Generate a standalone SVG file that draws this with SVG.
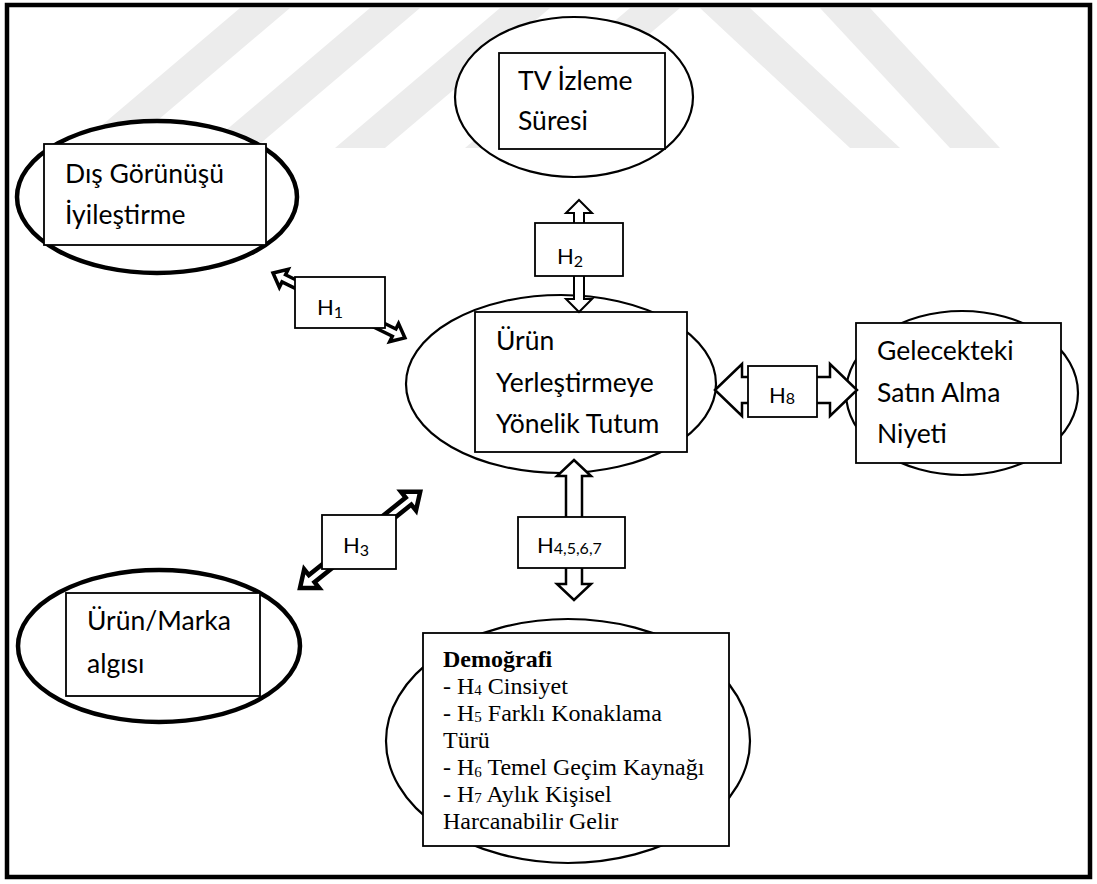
<svg xmlns="http://www.w3.org/2000/svg" width="1097" height="884" viewBox="0 0 1097 884">
<style>
.bg{fill:#ffffff}
.wm{fill:#ececec}
.ell{fill:#ffffff;stroke:#000;stroke-width:2.2}
.ellb{fill:#ffffff;stroke:#000;stroke-width:4.5}
.box{fill:#ffffff;stroke:#000;stroke-width:1.8}
.lab{fill:#ffffff;stroke:#000;stroke-width:1.8}
.t{font-family:Lato,"Open Sans",sans-serif;font-size:26.5px;fill:#000}
.h{font-family:Lato,"Open Sans",sans-serif;font-size:22px;fill:#000}
.sub{font-size:16px}
.d{font-family:"Liberation Serif","DejaVu Serif",serif;font-size:24px;fill:#000}
.ds{font-size:15px}
.arr{fill:#ffffff;stroke:#000;stroke-linejoin:miter}
</style>
<rect class="bg" x="0" y="0" width="1097" height="884"/>
<g id="watermark">
<polygon class="wm" points="240,8 290,8 125,148 75,148"/>
<polygon class="wm" points="370,8 420,8 255,148 205,148"/>
<polygon class="wm" points="500,8 550,8 385,148 335,148"/>
<polygon class="wm" points="630,8 680,8 515,148 465,148"/>
<polygon class="wm" points="700,8 750,8 900,148 850,148"/>
<polygon class="wm" points="820,8 870,8 1000,148 950,148"/>
</g>
<rect x="7" y="5" width="1083" height="872" fill="none" stroke="#000" stroke-width="4.5"/>
<g id="node-tv">
<ellipse class="ell" cx="574" cy="97" rx="119" ry="80"/>
<rect class="box" x="499" y="53" width="166" height="96"/>
<text class="t" x="518" y="90">TV İzleme</text>
<text class="t" x="518" y="130">Süresi</text>
</g>
<g id="node-dis">
<ellipse class="ellb" cx="157" cy="197" rx="140" ry="76"/>
<rect class="box" x="44" y="144" width="222" height="101"/>
<text class="t" x="65" y="183">Dış Görünüşü</text>
<text class="t" x="65" y="224">İyileştirme</text>
</g>
<g id="node-center">
<ellipse class="ell" cx="561" cy="384" rx="155" ry="89"/>
<rect class="box" x="475" y="312" width="212" height="140"/>
<text class="t" x="496" y="350">Ürün</text>
<text class="t" x="496" y="392">Yerleştirmeye</text>
<text class="t" x="496" y="433">Yönelik Tutum</text>
</g>
<g id="node-gelecek">
<ellipse class="ell" cx="962" cy="393" rx="116" ry="82"/>
<rect class="box" x="856" y="323" width="205" height="140"/>
<text class="t" x="877" y="360">Gelecekteki</text>
<text class="t" x="877" y="402">Satın Alma</text>
<text class="t" x="877" y="443">Niyeti</text>
</g>
<g id="node-urun">
<ellipse class="ellb" cx="159" cy="646" rx="141" ry="76"/>
<rect class="box" x="66" y="593" width="194" height="103"/>
<text class="t" x="87" y="630">Ürün/Marka</text>
<text class="t" x="87" y="673">algısı</text>
</g>
<g id="node-demografi" font-family="'Liberation Serif', 'DejaVu Serif', serif">
<ellipse class="ell" cx="568" cy="741" rx="182" ry="122"/>
<rect class="box" x="423" y="633" width="306" height="213"/>
<text class="d" x="443" y="667" font-weight="bold">Demoğrafi</text>
<text class="d" x="443" y="694">- H<tspan class="ds" dy="1">4</tspan><tspan dy="-1"> Cinsiyet</tspan></text>
<text class="d" x="443" y="721">- H<tspan class="ds" dy="1">5</tspan><tspan dy="-1"> Farklı Konaklama</tspan></text>
<text class="d" x="443" y="748">Türü</text>
<text class="d" x="443" y="775">- H<tspan class="ds" dy="2">6</tspan><tspan dy="-2"> Temel Geçim Kaynağı</tspan></text>
<text class="d" x="443" y="802">- H<tspan class="ds" dy="1">7</tspan><tspan dy="-1"> Aylık Kişisel</tspan></text>
<text class="d" x="443" y="829">Harcanabilir Gelir</text>
</g>
<g id="connectors">
<polygon class="arr" stroke-width="3.5" transform="translate(273,273) rotate(26.2)" points="0,0 12,-10 12,-4 135,-4 135,-10 147,0 135,10 135,4 12,4 12,10"/>
<polygon class="arr" stroke-width="4.5" transform="translate(300,588) rotate(-38.7)" points="0,0 15,-12 15,-4.5 139,-4.5 139,-12 154,0 139,12 139,4.5 15,4.5 15,12"/>
<polygon class="arr" stroke-width="2" transform="translate(579,200) rotate(90)" points="0,0 13,-13 13,-5 99,-5 99,-13 112,0 99,13 99,5 13,5 13,13"/>
<polygon class="arr" stroke-width="2.5" transform="translate(574,460) rotate(90)" points="0,0 16,-17 16,-8 124,-8 124,-17 140,0 124,17 124,8 16,8 16,17"/>
<polygon class="arr" stroke-width="2.5" transform="translate(715,390)" points="0,0 27,-26 27,-13 115,-13 115,-26 142,0 115,26 115,13 27,13 27,26"/>
<g id="label-h1"><rect class="lab" x="295" y="277" width="90" height="51"/><text class="h" x="317" y="315">H<tspan class="sub" dy="3">1</tspan></text></g>
<g id="label-h2"><rect class="lab" x="535" y="223" width="88" height="53"/><text class="h" x="557" y="264">H<tspan class="sub" dy="3">2</tspan></text></g>
<g id="label-h3"><rect class="lab" x="322" y="515" width="74" height="54"/><text class="h" x="343" y="553">H<tspan class="sub" dy="3">3</tspan></text></g>
<g id="label-h4567"><rect class="lab" x="518" y="517" width="107" height="51"/><text class="h" x="537" y="553">H<tspan class="sub" dy="1">4,5,6,7</tspan></text></g>
<g id="label-h8"><rect class="lab" x="748" y="366" width="69" height="51"/><text class="h" x="769" y="403">H<tspan class="sub" dy="1">8</tspan></text></g>
</g>
</svg>
